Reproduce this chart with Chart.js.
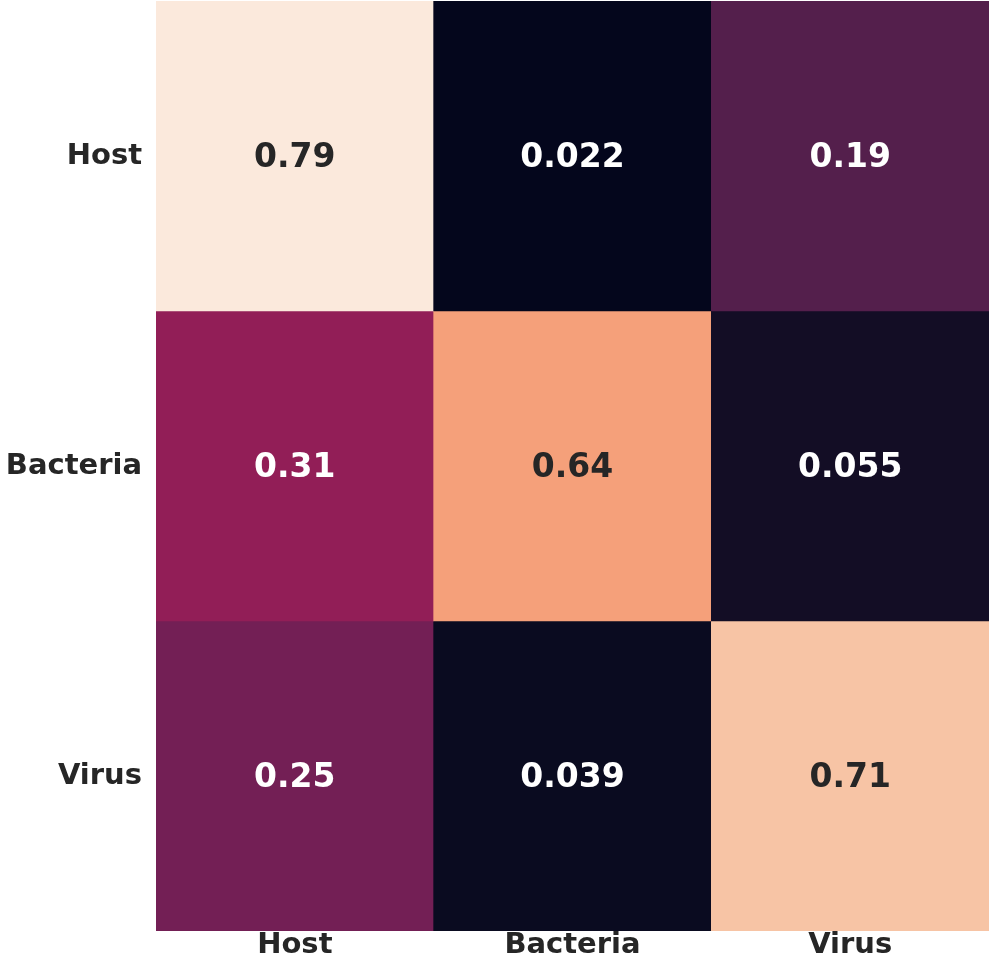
<!DOCTYPE html>
<html>
<head>
<meta charset="utf-8">
<script src="https://cdn.jsdelivr.net/npm/chart.js@4/dist/chart.umd.min.js"></script>
<style>
  html, body { margin: 0; padding: 0; background: #fff; overflow: hidden; }
  #wrap { width: 1000px; height: 961px; }
</style>
</head>
<body>
<div id="wrap"><canvas id="heatmap"></canvas></div>
<script>
// Matriz de confusão normalizada - Host / Bacteria / Virus
const categories = ['Host', 'Bacteria', 'Virus'];
const hostRow = [0.79, 0.022, 0.19];
const bacteriaRow = [0.31, 0.64, 0.055];
const virusRow = [0.25, 0.039, 0.71];
const rows = [hostRow, bacteriaRow, virusRow];

const cellColors = [
    ['#fbe9dc', '#04061c', '#541f4c'],
    ['#921e57', '#f5a07a', '#130d25'],
    ['#731f55', '#0a0b20', '#f7c4a5']
];

const fontFamily = '"DejaVu Sans", sans-serif';

const datasets = rows.map((vals, r) => ({
    label: categories[r],
    values: vals,
    data: vals.map(() => [r, r + 1]),
    backgroundColor: cellColors[r],
    borderWidth: 0,
    borderSkipped: false,
    barPercentage: 1,
    categoryPercentage: 1,
    grouped: false
}));

// escreve o valor no centro de cada célula
const cellText = {
    id: 'cellText',
    afterDatasetsDraw(chart) {
        const ctx = chart.ctx;
        ctx.save();
        ctx.font = 'bold 33px ' + fontFamily;
        ctx.textAlign = 'center';
        ctx.textBaseline = 'middle';
        chart.data.datasets.forEach((ds, i) => {
            chart.getDatasetMeta(i).data.forEach((bar, j) => {
                const v = ds.values[j];
                ctx.fillStyle = v > 0.5 ? '#262626' : '#ffffff';
                ctx.fillText(String(v), bar.x, (bar.y + bar.base) / 2 + 2);
            });
        });
        ctx.restore();
    }
};

const heatmapContext = document.getElementById('heatmap').getContext('2d');
const heatmap = new Chart(heatmapContext, {
    type: 'bar',
    data: {
        labels: categories,
        datasets: datasets
    },
    options: {
        responsive: true,
        maintainAspectRatio: false,
        animation: false,
        layout: { padding: { top: 1, right: 11, left: 0, bottom: 0 } },
        plugins: {
            legend: { display: false },
            tooltip: { enabled: false }
        },
        scales: {
            x: {
                grid: { display: false, drawTicks: false },
                border: { display: false },
                ticks: {
                    color: '#262626',
                    padding: -3,
                    maxRotation: 0,
                    font: { family: fontFamily, size: 29, weight: 'bold' }
                },
                afterFit(scale) {
                    scale.height = 30;
                    scale.paddingLeft = 0;
                    scale.paddingRight = 0;
                }
            },
            y: {
                type: 'linear',
                min: 0,
                max: 3,
                reverse: true,
                grid: { display: false, drawTicks: false },
                border: { display: false },
                afterBuildTicks(scale) {
                    scale.ticks = [{ value: 0.5 }, { value: 1.5 }, { value: 2.5 }];
                },
                ticks: {
                    color: '#262626',
                    padding: 14,
                    font: { family: fontFamily, size: 29, weight: 'bold' },
                    callback: (value) => categories[Math.floor(value)]
                },
                afterFit(scale) {
                    scale.width = 156;
                    scale.paddingTop = 0;
                    scale.paddingBottom = 0;
                }
            }
        }
    },
    plugins: [cellText]
});
</script>
</body>
</html>
